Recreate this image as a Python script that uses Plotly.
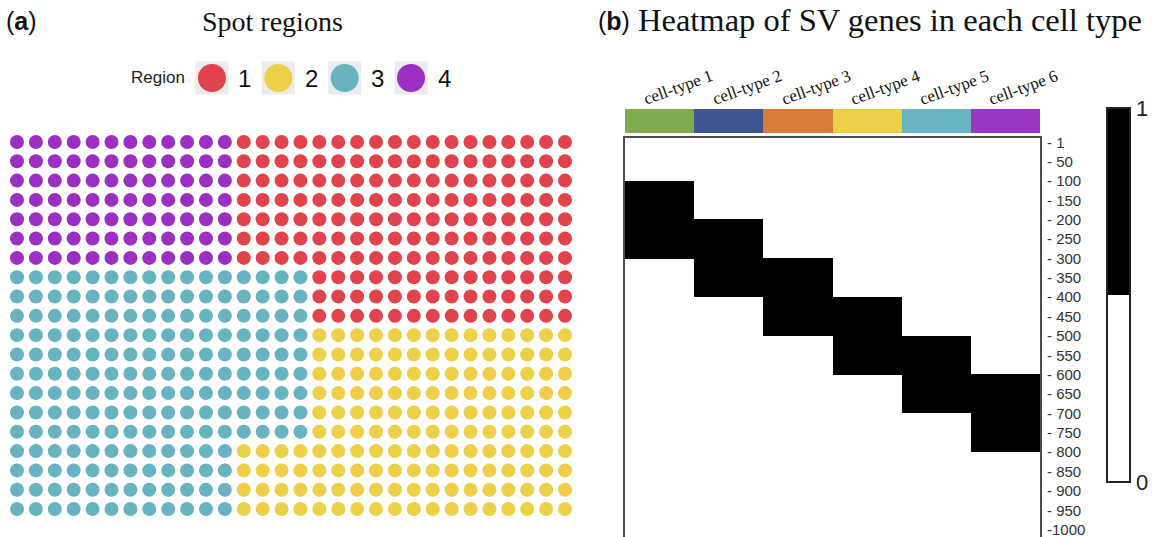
import plotly.graph_objects as go

W, H = 1160, 537

# ---------------- data ----------------
# Spot grid (20 rows x 30 columns); each character is the region of one spot
region_rows = (
    ["444444444444111111111111111111"] * 7
    + ["333333333333333311111111111111"] * 3
    + ["333333333333333322222222222222"] * 6
    + ["333333333333222222222222222222"] * 4
)
region_names = ["1", "2", "3", "4"]
region_colors = ["#E0434B", "#EDCF48", "#68B3C1", "#9B2FC2"]

cell_types = ["cell-type 1", "cell-type 2", "cell-type 3",
              "cell-type 4", "cell-type 5", "cell-type 6"]
cell_type_colors = ["#7FAB4C", "#3F5592", "#D97B38", "#EDCF48", "#68B5C2", "#9E34C4"]
sv_gene_start = [100, 200, 300, 400, 500, 600]
sv_gene_end = [300, 400, 500, 600, 700, 800]
n_genes = 1000
gene_tick_vals = [1] + list(range(50, 1001, 50))
gene_tick_text = [("- %d" % v) if v < 1000 else ("-%d" % v) for v in gene_tick_vals]

# ---------------- helpers ----------------
def X(px):
    return px / W

def Y(py):
    return 1 - py / H

SERIF = "Liberation Serif"
SANS = "Liberation Sans"

fig = go.Figure()

# ---- (a) spot grid ----
for name, color in zip(region_names, region_colors):
    xs, ys = [], []
    for r, row in enumerate(region_rows):
        for c, ch in enumerate(row):
            if ch == name:
                xs.append(c + 1)
                ys.append(r + 1)
    fig.add_trace(go.Scatter(
        x=xs, y=ys, mode="markers", showlegend=False, hoverinfo="skip",
        marker=dict(size=14, color=color, line=dict(width=0)),
        xaxis="x", yaxis="y"))

# ---- legend keys for (a) ----
key_pos = list(range(len(region_names)))
fig.add_trace(go.Scatter(
    x=key_pos, y=[0] * len(region_names), mode="markers", showlegend=False,
    hoverinfo="skip", marker=dict(symbol="square", size=33, color="#EBEBEB", line=dict(width=0)),
    xaxis="x4", yaxis="y4"))
fig.add_trace(go.Scatter(
    x=key_pos, y=[0] * len(region_names), mode="markers", showlegend=False,
    hoverinfo="skip", marker=dict(size=28, color=region_colors, line=dict(width=0)),
    xaxis="x4", yaxis="y4"))

# ---- (b) heatmap ----
genes = list(range(1, n_genes + 1))
z = [[1 if s <= g <= e else 0 for s, e in zip(sv_gene_start, sv_gene_end)] for g in genes]
fig.add_trace(go.Heatmap(
    x=cell_types, y=genes, z=z, zmin=0, zmax=1,
    colorscale=[[0, "white"], [0.5, "white"], [0.5, "black"], [1, "black"]],
    hoverinfo="skip", xaxis="x2", yaxis="y2",
    colorbar=dict(
        thickness=23, thicknessmode="pixels", len=374, lenmode="pixels",
        x=X(1107), xanchor="left", xpad=0, y=Y(108), yanchor="top", ypad=0,
        outlinewidth=2, outlinecolor="#222222",
        tickvals=[0, 1], ticktext=["0", "1"], ticks="",
        tickfont=dict(family=SANS, size=22, color="#222222"))))

# ---- cell type colour strip ----
fig.add_trace(go.Bar(
    x=cell_types, y=[1] * len(cell_types), width=1,
    marker=dict(color=cell_type_colors, line=dict(width=0)),
    showlegend=False, hoverinfo="skip", xaxis="x3", yaxis="y3"))

hidden = dict(showgrid=False, zeroline=False, showticklabels=False, ticks="", showline=False)

fig.update_layout(
    width=W, height=H, margin=dict(l=0, r=0, t=0, b=0, autoexpand=False),
    paper_bgcolor="white", plot_bgcolor="white", bargap=0,
    xaxis=dict(domain=[X(7.55), X(574.45)], range=[0.5, 30.5], **hidden),
    yaxis=dict(domain=[Y(518.7), Y(132.3)], range=[20.5, 0.5], **hidden),
    xaxis2=dict(domain=[X(625), X(1040)], range=[-0.5, 5.5], anchor="y2", type="category",
                showgrid=False, zeroline=False, showticklabels=False, ticks="",
                showline=True, mirror=True, linecolor="#4d4d4d", linewidth=2),
    yaxis2=dict(domain=[0, Y(138)], range=[1019, -11], anchor="x2", side="right",
                showgrid=False, zeroline=False, ticks="",
                tickvals=gene_tick_vals, ticktext=gene_tick_text,
                tickfont=dict(family=SANS, size=15, color="#333333"),
                ticklabelstandoff=2, ticklabeloverflow="allow",
                showline=True, mirror=True, linecolor="#4d4d4d", linewidth=2),
    xaxis3=dict(domain=[X(625), X(1040)], range=[-0.5, 5.5], anchor="y3", type="category", **hidden),
    yaxis3=dict(domain=[Y(133), Y(109)], range=[0, 1], anchor="x3", **hidden),
    xaxis4=dict(domain=[X(178.8), X(444.2)], range=[-0.5, 3.5], anchor="y4", **hidden),
    yaxis4=dict(domain=[Y(95), Y(61)], range=[-1, 1], anchor="x4", **hidden),
)

ann = []
ann.append(dict(text="(<b>a</b>)", x=X(4), y=Y(21), xref="paper", yref="paper",
                xanchor="left", yanchor="middle", showarrow=False,
                font=dict(family=SANS, size=25, color="#111111")))
ann.append(dict(text="Spot regions", x=X(272.5), y=Y(21), xref="paper", yref="paper",
                xanchor="center", yanchor="middle", showarrow=False,
                font=dict(family=SERIF, size=28, color="#111111")))
ann.append(dict(text="(<b>b</b>)", x=X(596), y=Y(21), xref="paper", yref="paper",
                xanchor="left", yanchor="middle", showarrow=False,
                font=dict(family=SANS, size=25, color="#111111")))
ann.append(dict(text="Heatmap of SV genes in each cell type", x=X(636), y=Y(20),
                xref="paper", yref="paper", xanchor="left", yanchor="middle", showarrow=False,
                font=dict(family=SERIF, size=32.5, color="#111111")))
ann.append(dict(text="Region", x=X(157.5), y=Y(78), xref="paper", yref="paper",
                xanchor="center", yanchor="middle", showarrow=False,
                font=dict(family=SANS, size=17, color="#222222")))
for i, name in zip(key_pos, region_names):
    ann.append(dict(text=name, x=i, y=0, xref="x4", yref="y4", xshift=33,
                    xanchor="center", yanchor="middle", showarrow=False,
                    font=dict(family=SANS, size=24, color="#111111")))
for ct in cell_types:
    ann.append(dict(text=ct, x=ct, y=Y(87), xref="x3", yref="paper", xshift=18,
                    xanchor="center", yanchor="middle", showarrow=False, textangle=-20,
                    font=dict(family=SERIF, size=17, color="#111111")))
fig.update_layout(annotations=ann)

fig.write_html("out.html",
               config={"displayModeBar": False},
               post_script="document.body.style.margin='0';document.body.style.padding='0';"
                           "document.documentElement.style.overflow='hidden';")
